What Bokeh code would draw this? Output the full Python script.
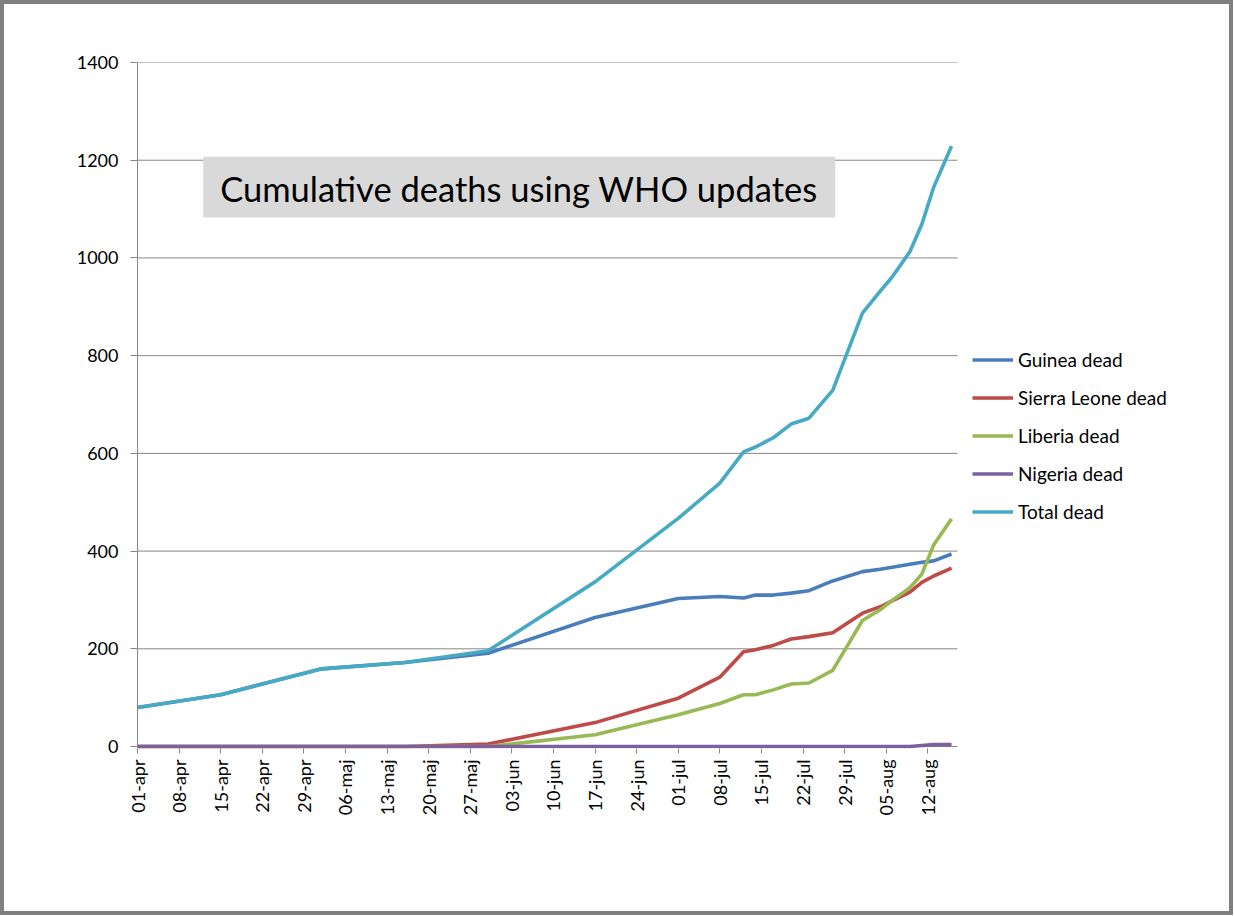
import math
import pandas as pd
from bokeh.plotting import figure
from bokeh.models import (ColumnDataSource, Range1d, FixedTicker, Legend, LegendItem,
                          BoxAnnotation, Label)
from bokeh.embed import file_html
from bokeh.resources import INLINE

# WHO update dates (data as of) and cumulative deaths per country
dates = ["2014-04-01", "2014-04-15", "2014-05-02", "2014-05-16", "2014-05-30",
         "2014-06-17", "2014-07-01", "2014-07-08", "2014-07-12", "2014-07-14",
         "2014-07-17", "2014-07-20", "2014-07-23", "2014-07-27", "2014-08-01",
         "2014-08-04", "2014-08-06", "2014-08-09", "2014-08-11", "2014-08-13",
         "2014-08-16"]
guinea = [80, 106, 159, 172, 191, 264, 303, 307, 304, 310, 310, 314, 319, 339,
          358, 363, 367, 373, 377, 380, 394]
sierra_leone = [0, 0, 0, 0, 5, 49, 99, 142, 194, 198, 207, 220, 225, 233,
                273, 286, 298, 316, 336, 349, 365]
liberia = [0, 0, 0, 0, 0, 24, 65, 88, 106, 106, 116, 128, 130, 156,
           258, 280, 299, 325, 353, 413, 466]
nigeria = [0, 0, 0, 0, 0, 0, 0, 0, 0, 0, 0, 0, 0, 0,
           0, 0, 0, 0, 2, 4, 4]
total = [80, 106, 159, 172, 196, 337, 467, 539, 603, 613, 632, 660, 672, 729,
         887, 932, 961, 1013, 1069, 1145, 1229]

tick_dates = ["2014-04-01", "2014-04-08", "2014-04-15", "2014-04-22", "2014-04-29",
              "2014-05-06", "2014-05-13", "2014-05-20", "2014-05-27", "2014-06-03",
              "2014-06-10", "2014-06-17", "2014-06-24", "2014-07-01", "2014-07-08",
              "2014-07-15", "2014-07-22", "2014-07-29", "2014-08-05", "2014-08-12"]
tick_labels = ["01-apr", "08-apr", "15-apr", "22-apr", "29-apr",
               "06-maj", "13-maj", "20-maj", "27-maj", "03-jun",
               "10-jun", "17-jun", "24-jun", "01-jul", "08-jul",
               "15-jul", "22-jul", "29-jul", "05-aug", "12-aug"]
y_ticks = [0, 200, 400, 600, 800, 1000, 1200, 1400]

FONT = "Lato"
GRAY = "#868686"

W, H = 1233, 915
LEFT, TOP, BOTTOM = 133, 58, 171
# plot area runs 01-apr .. 17-aug (820 px); the frame continues to the right
# edge so the legend can sit beside the plot area
PLOT_W, FRAME_W = 820.0, float(W - LEFT)
# a few units below zero so lines lying on 0 are not cut in half
Y_MIN = -4


def ms(ts):
    return pd.Timestamp(ts).value / 1e6


x0 = ms("2014-04-01")
x_grid_end = ms("2014-08-17")
x1 = x0 + (x_grid_end - x0) * FRAME_W / PLOT_W

src = ColumnDataSource(dict(date=pd.to_datetime(dates), guinea=guinea,
                            sierra=sierra_leone, liberia=liberia,
                            nigeria=nigeria, total=total))

p = figure(width=W, height=H, x_axis_type="datetime",
           x_range=Range1d(x0, x1), y_range=Range1d(Y_MIN, 1400),
           output_backend="svg", toolbar_location=None,
           min_border_left=LEFT, min_border_right=0,
           min_border_top=TOP, min_border_bottom=BOTTOM)
p.styles = {"border": "4px solid #808080"}
p.outline_line_color = None
p.background_fill_color = "white"
p.border_fill_color = "white"

# horizontal gridlines only across the plot area (the one at 0 is the x axis line)
p.xgrid.grid_line_color = None
p.ygrid.grid_line_color = None
p.segment(x0=[x0] * len(y_ticks), x1=[x_grid_end] * len(y_ticks),
          y0=y_ticks, y1=y_ticks, line_color=GRAY, line_width=1)

# axes
tick_ms = [ms(d) for d in tick_dates]
p.xaxis.ticker = FixedTicker(ticks=tick_ms)
p.xaxis.major_label_overrides = dict(zip(tick_ms, tick_labels))
p.xaxis.major_label_orientation = math.pi / 2
p.xaxis.major_label_standoff = 6
p.xaxis.axis_line_color = None
p.yaxis.ticker = FixedTicker(ticks=y_ticks)
p.yaxis.major_label_standoff = 12
p.yaxis.axis_line_color = GRAY
for ax in (p.xaxis, p.yaxis):
    ax.major_tick_line_color = GRAY
    ax.major_tick_in = 0
    ax.major_tick_out = 7
    ax.minor_tick_line_color = None
    ax.major_label_text_font = FONT
    ax.major_label_text_font_size = "18px"
    ax.major_label_text_color = "black"
p.xaxis.major_tick_out = 5

series = [("guinea", "Guinea dead", "#4A7EBB"),
          ("sierra", "Sierra Leone dead", "#BE4B48"),
          ("liberia", "Liberia dead", "#98B954"),
          ("nigeria", "Nigeria dead", "#7D60A0"),
          ("total", "Total dead", "#46AAC5")]
items = []
for col, name, color in series:
    r = p.line("date", col, source=src, line_color=color, line_width=3.6,
               line_join="round")
    items.append(LegendItem(label=name, renderers=[r]))

legend = Legend(items=items, location=(835, 225), orientation="vertical",
                padding=0, margin=0, spacing=15,
                glyph_width=41, glyph_height=23, label_height=23,
                label_standoff=5, border_line_color=None,
                background_fill_alpha=0,
                label_text_font=FONT, label_text_font_size="19px",
                label_text_color="black")
p.add_layout(legend)

# title box
box = BoxAnnotation(left=ms("2014-04-12 01:30"), right=ms("2014-07-27 10:00"),
                    bottom=1083, top=1207, fill_color="#d9d9d9", fill_alpha=1.0,
                    line_color=None)
p.add_layout(box)
title = Label(x=ms("2014-04-14 22:00"), y=1143,
              text="Cumulative deaths using WHO updates",
              text_font=FONT, text_font_size="34.5px", text_color="black",
              text_baseline="alphabetic")
p.add_layout(title)

open("out.html", "w").write(file_html(p, INLINE))
